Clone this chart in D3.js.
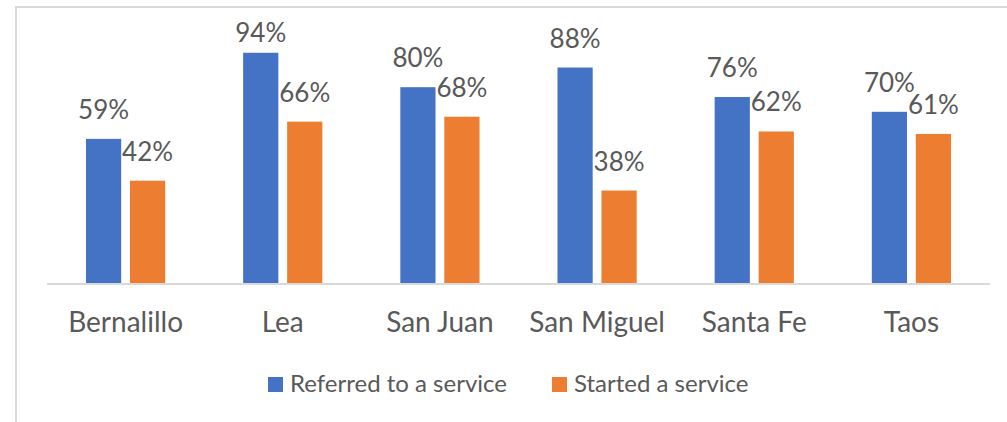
<!DOCTYPE html>
<html>
<head>
<meta charset="utf-8">
<script src="https://cdn.jsdelivr.net/npm/d3@7"></script>
<style>
  body { margin: 0; background: #fff; }
  text { font-family: Lato, "Open Sans", sans-serif; fill: #595959; }
</style>
</head>
<body>
<div id="chart"></div>
<script>
const counties = ["Bernalillo", "Lea", "San Juan", "San Miguel", "Santa Fe", "Taos"];
const seriesNames = ["Referred to a service", "Started a service"];
const referred = [0.59, 0.94, 0.80, 0.88, 0.76, 0.70];
const started = [0.42, 0.66, 0.68, 0.38, 0.62, 0.61];
const colors = ["#4472C4", "#ED7D31"];

const width = 1007, height = 422;
const margin = { top: 38, right: 17, bottom: 138, left: 47 };

const svg = d3.select("#chart")
  .append("svg")
  .attr("width", width)
  .attr("height", height);

// chart frame (cropped on right and bottom)
svg.append("rect")
  .attr("x", 16)
  .attr("y", 7)
  .attr("width", 1100)
  .attr("height", 500)
  .attr("fill", "none")
  .attr("stroke", "#d9d9d9")
  .attr("stroke-width", 2);

let data = counties.map((c, i) => ({
  county: c,
  values: [referred[i], started[i]]
}));

let x0 = d3.scaleBand()
  .domain(counties)
  .range([margin.left, width - margin.right]);

let x1 = d3.scaleBand()
  .domain(d3.range(seriesNames.length))
  .range([0, x0.bandwidth()])
  .paddingInner(0.2)
  .paddingOuter(0.886);

let y = d3.scaleLinear()
  .domain([0, 1])
  .range([height - margin.bottom, margin.top]);

let groups = svg.selectAll(".group")
  .data(data)
  .enter()
  .append("g")
  .attr("class", "group")
  .attr("transform", d => `translate(${x0(d.county)},0)`);

groups.selectAll("rect")
  .data(d => d.values)
  .enter()
  .append("rect")
  .attr("x", (d, i) => x1(i))
  .attr("y", d => y(d))
  .attr("width", x1.bandwidth())
  .attr("height", d => y(0) - y(d))
  .attr("fill", (d, i) => colors[i]);

// data labels, kept inside the plot area
groups.selectAll(".label")
  .data(d => d.values)
  .enter()
  .append("text")
  .attr("class", "label")
  .attr("x", (d, i) => x1(i) + x1.bandwidth() / 2)
  .attr("y", d => Math.max(y(d) - 20, 42))
  .attr("text-anchor", "middle")
  .style("font-size", "26px")
  .text(d => Math.round(d * 100) + "%");

// baseline
svg.append("line")
  .attr("x1", margin.left)
  .attr("x2", width - margin.right)
  .attr("y1", y(0))
  .attr("y2", y(0))
  .attr("stroke", "#d9d9d9")
  .attr("stroke-width", 2);

// category axis
let xAxis = d3.axisBottom(x0).tickSize(0).tickPadding(0);
let xAxisGroup = svg.append("g")
  .attr("transform", `translate(0, ${y(0)})`)
  .call(xAxis);
xAxisGroup.select(".domain").remove();
xAxisGroup.selectAll("text")
  .attr("dy", null)
  .attr("y", 48)
  .style("font-size", "28px")
  .style("font-family", "Lato, sans-serif")
  .attr("fill", "#595959");

// legend
const legendX = [268, 552];
let legend = svg.selectAll(".legend")
  .data(seriesNames)
  .enter()
  .append("g")
  .attr("class", "legend")
  .attr("transform", (d, i) => `translate(${legendX[i]}, 377)`);

legend.append("rect")
  .attr("width", 15)
  .attr("height", 15)
  .attr("fill", (d, i) => colors[i]);

legend.append("text")
  .attr("x", 22)
  .attr("y", 15)
  .style("font-size", "24px")
  .text(d => d);
</script>
</body>
</html>
